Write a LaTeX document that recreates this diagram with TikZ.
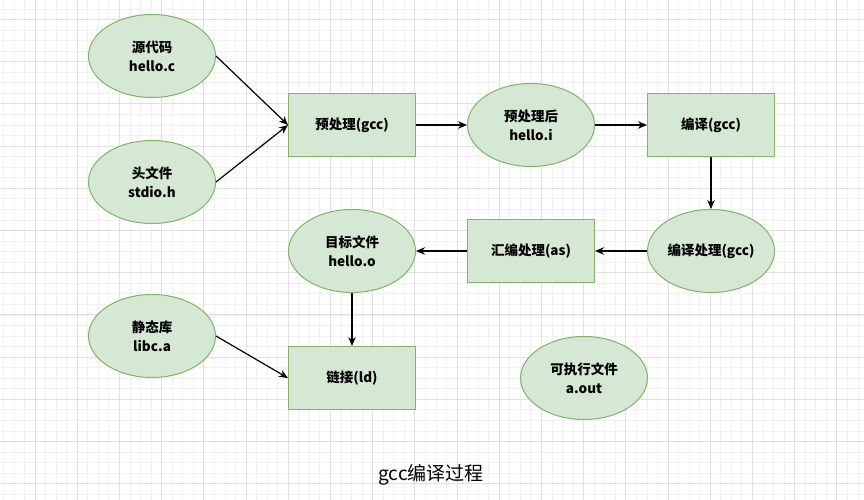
\documentclass[tikz,border=0pt]{standalone}
\usepackage{fontspec}
\setmainfont{Noto Sans CJK SC}
\usetikzlibrary{shapes.geometric,arrows.meta}

\definecolor{nodefill}{HTML}{D5E8D4}
\definecolor{nodeline}{HTML}{82B366}
\definecolor{gridmajor}{HTML}{E0E0E0}
\definecolor{gridminor}{HTML}{F1F1F1}

\newcommand*{\picw}{864}
\newcommand*{\pich}{500}
\newcommand*{\gridstep}{42.2}

\begin{document}
\begin{tikzpicture}
[
	x=1pt,y=-1pt,
	filebox/.style={ellipse,draw=nodeline,fill=nodefill,line width=1pt,minimum width=127pt,minimum height=83pt,inner sep=0pt,align=center,font=\bfseries\fontsize{13.5}{19}\selectfont},
	stagebox/.style={rectangle,draw=nodeline,fill=nodefill,line width=1pt,minimum width=127pt,minimum height=63pt,inner sep=0pt,align=center,font=\bfseries\fontsize{13.5}{19}\selectfont},
	flow/.style={-{Stealth[length=9pt,width=7.5pt]},line width=1.2pt}
]

	\fill[white] (0,0) rectangle (\picw,\pich);
	\useasboundingbox (0,0) rectangle (\picw,\pich);
	\clip (0,0) rectangle (\picw,\pich);

	% grid
	\foreach \i in {-4,...,79} {
		\draw[gridminor,line width=0.8pt] ({35+\i*\gridstep/4},0) -- ({35+\i*\gridstep/4},\pich);
	}
	\foreach \j in {-2,...,46} {
		\draw[gridminor,line width=0.8pt] (0,{19.5+\j*\gridstep/4}) -- (\picw,{19.5+\j*\gridstep/4});
	}
	\foreach \i in {-1,...,20} {
		\draw[gridmajor,line width=1pt] ({35+\i*\gridstep},0) -- ({35+\i*\gridstep},\pich);
	}
	\foreach \j in {0,...,12} {
		\draw[gridmajor,line width=1pt] (0,{19.5+\j*\gridstep}) -- (\picw,{19.5+\j*\gridstep});
	}

	% files and stages
	\node[filebox] (src) at (152,56) {源代码\\hello.c};
	\node[filebox] (hdr) at (152,182) {头文件\\stdio.h};
	\node[stagebox] (pre) at (352,125) {预处理(gcc)};
	\node[filebox] (prei) at (531,125) {预处理后\\hello.i};
	\node[stagebox] (cc) at (711,125) {编译(gcc)};
	\node[filebox] (ccs) at (711,251) {编译处理(gcc)};
	\node[stagebox] (as) at (531,251) {汇编处理(as)};
	\node[filebox] (obj) at (352,251) {目标文件\\hello.o};
	\node[stagebox] (ld) at (352,378) {链接(ld)};
	\node[filebox] (lib) at (152,336) {静态库\\libc.a};
	\node[filebox] (exe) at (584,378) {可执行文件\\a.out};

	% title
	\node[font=\fontsize{19}{19}\selectfont] (title) at (431,475) {gcc编译过程};

	% flow
	\draw[flow] (src.east) -- (pre.west);
	\draw[flow] (hdr.east) -- (pre.west);
	\draw[flow] (pre) -- (prei);
	\draw[flow] (prei) -- (cc);
	\draw[flow] (cc) -- (ccs);
	\draw[flow] (ccs) -- (as);
	\draw[flow] (as) -- (obj);
	\draw[flow] (obj) -- (ld);
	\draw[flow] (lib.east) -- (ld.west);

\end{tikzpicture}
\end{document}
